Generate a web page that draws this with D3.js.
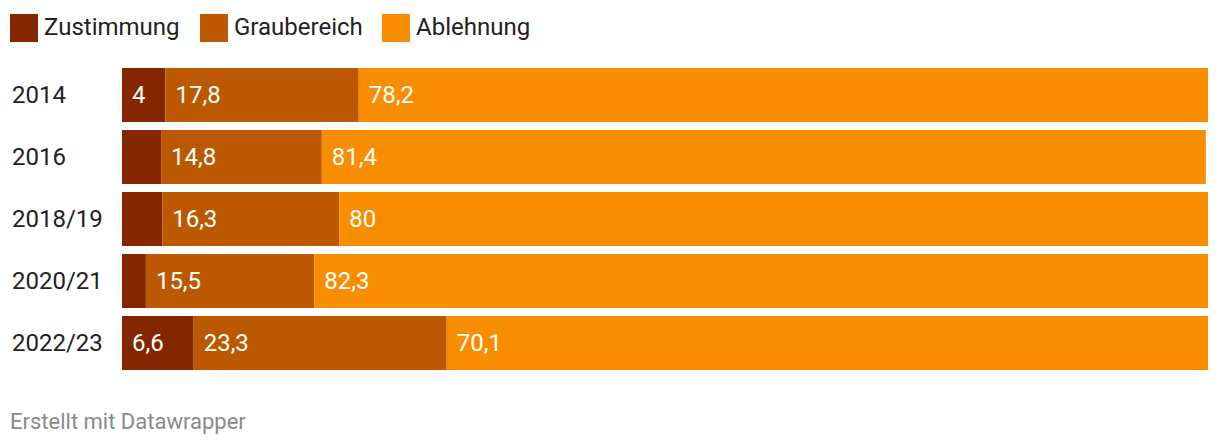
<!DOCTYPE html>
<html><head><meta charset="utf-8">
<script src="https://cdn.jsdelivr.net/npm/d3@7"></script>
<style>body{margin:0;background:#fff;font-family:Roboto,sans-serif}</style>
</head><body><svg id="c" width="1220" height="448"></svg>
<script>
const categories = ["2014","2016","2018/19","2020/21","2022/23"];
const seriesNames = ["Zustimmung","Graubereich","Ablehnung"];
const zustimmung = [4, 3.6, 3.7, 2.2, 6.6];
const graubereich = [17.8, 14.8, 16.3, 15.5, 23.3];
const ablehnung = [78.2, 81.4, 80, 82.3, 70.1];
const colors = ["#842600","#bc5900","#f98d00"];
const footer = "Erstellt mit Datawrapper";

const svg = d3.select("#c");
const fmt = v => String(v).replace(".", ",");
const rows = categories.map((c,i)=>({cat:c, Zustimmung:zustimmung[i], Graubereich:graubereich[i], Ablehnung:ablehnung[i]}));
const stack = d3.stack().keys(seriesNames)(rows);

const x = d3.scaleLinear().domain([0,100]).range([122,1208]);
const y = d3.scaleBand().domain(categories).range([68,370]).paddingInner(8/62).paddingOuter(0);

// legend
const lx = [10,200,382];
seriesNames.forEach((s,i)=>{
  svg.append("rect").attr("x",lx[i]).attr("y",14).attr("width",28).attr("height",28).attr("fill",colors[i]);
  svg.append("text").attr("x",lx[i]+34).attr("y",35).attr("font-size",24).attr("fill","#222").text(s);
});

// year labels
svg.selectAll(".yl").data(categories).join("text")
  .attr("x",12).attr("y",d=>y(d)+y.bandwidth()/2).attr("dy","0.35em")
  .attr("font-size",24).attr("fill","#222").text(d=>d);

stack.forEach((layer,li)=>{
  const g = svg.append("g");
  g.selectAll("rect").data(layer).join("rect")
    .attr("x",d=>x(d[0])).attr("width",d=>x(d[1])-x(d[0]))
    .attr("y",d=>y(d.data.cat)).attr("height",y.bandwidth())
    .attr("fill",colors[li]);
  g.selectAll("text").data(layer).join("text")
    .attr("x",d=>x(d[0])+10).attr("y",d=>y(d.data.cat)+y.bandwidth()/2).attr("dy","0.35em")
    .attr("font-size",24).attr("fill","#fff")
    .text(d=>fmt(d.data[seriesNames[li]]))
    .each(function(d){
      const w = this.getComputedTextLength();
      if (w + 16 > x(d[1])-x(d[0])) d3.select(this).remove();
    });
});

svg.append("text").attr("x",10).attr("y",429).attr("font-size",22).attr("fill","#8a8a8a").text(footer);
</script></body></html>
